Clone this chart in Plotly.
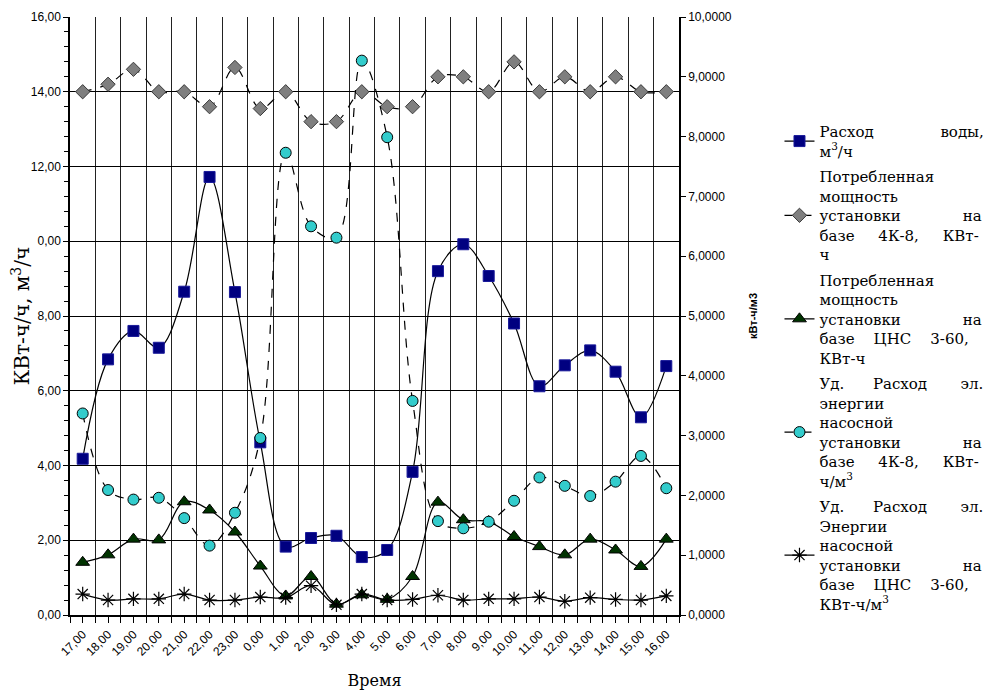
import plotly.graph_objects as go

hours = ["17,00", "18,00", "19,00", "20,00", "21,00", "22,00", "23,00", "0,00",
         "1,00", "2,00", "3,00", "4,00", "5,00", "6,00", "7,00", "8,00",
         "9,00", "10,00", "11,00", "12,00", "13,00", "14,00", "15,00", "16,00"]

water_flow = [4.18, 6.84, 7.60, 7.15, 8.65, 11.72, 8.64, 4.62, 1.83, 2.06, 2.12, 1.55,
              1.74, 3.83, 9.20, 9.92, 9.07, 7.80, 6.12, 6.68, 7.08, 6.51, 5.29, 6.66]
power_4k8 = [14.0, 14.2, 14.6, 14.0, 14.0, 13.6, 14.65, 13.55, 14.0, 13.2, 13.2, 14.0,
             13.6, 13.6, 14.4, 14.4, 14.0, 14.8, 14.0, 14.4, 14.0, 14.4, 14.0, 14.0]
power_cns = [1.41, 1.61, 2.03, 2.01, 3.03, 2.81, 2.22, 1.31, 0.51, 1.03, 0.29, 0.54,
             0.42, 1.03, 3.02, 2.55, 2.50, 2.10, 1.83, 1.61, 2.03, 1.74, 1.30, 2.03]
spec_4k8 = [3.37, 2.09, 1.93, 1.96, 1.62, 1.16, 1.71, 2.96, 7.73, 6.50, 6.31, 9.27,
            7.99, 3.58, 1.57, 1.45, 1.56, 1.91, 2.30, 2.16, 1.99, 2.23, 2.66, 2.12]
spec_cns = [0.35, 0.25, 0.27, 0.27, 0.35, 0.25, 0.25, 0.30, 0.29, 0.49, 0.17, 0.35,
            0.25, 0.26, 0.33, 0.25, 0.27, 0.27, 0.30, 0.23, 0.29, 0.26, 0.25, 0.32]

left_ticks = [0, 2, 4, 6, 8, 10, 12, 14, 16]
left_ticktext = ["0,00", "2,00", "4,00", "6,00", "8,00", "0,00", "12,00", "14,00", "16,00"]
right_ticks = [0, 1, 2, 3, 4, 5, 6, 7, 8, 9, 10]
right_ticktext = ["0,0000", "1,0000", "2,0000", "3,0000", "4,0000", "5,0000",
                  "6,0000", "7,0000", "8,0000", "9,0000", "10,0000"]

NB = "\u00a0"
ust = "установки" + NB * 13 + "на"
ud = "Уд." + NB * 6 + "Расход" + NB * 7 + "эл."
baza4 = "базе" + NB * 5 + "4К-8," + NB * 5 + "КВт-"
bazac = "базе" + NB * 4 + "ЦНС" + NB * 4 + "3-60,"
names = [
    "Расход" + NB * 14 + "воды,<br>м<sup>3</sup>/ч",
    "Потребленная<br>мощность<br>" + ust + "<br>" + baza4 + "<br>ч",
    "Потребленная<br>мощность<br>" + ust + "<br>" + bazac + "<br>КВт-ч",
    ud + "<br>энергии<br>насосной<br>" + ust + "<br>" + baza4 + "<br>ч/м<sup>3</sup>",
    ud + "<br>Энергии<br>насосной<br>" + ust + "<br>" + bazac + "<br>КВт-ч/м<sup>3</sup>",
]

x = list(range(len(hours)))
fig = go.Figure()

fig.add_trace(go.Scatter(
    x=x, y=water_flow, name=names[0], mode="lines+markers", legendgroup="a",
    line=dict(color="black", width=1.2, shape="spline", smoothing=1),
    marker=dict(symbol="square", size=11, color="#000080", line=dict(color="#1a1a9a", width=1))))
fig.add_trace(go.Scatter(
    x=x, y=power_4k8, name=names[1], mode="lines+markers", legendgroup="b",
    line=dict(color="black", width=1.2, dash="dash", shape="spline", smoothing=1),
    marker=dict(symbol="diamond", size=11, color="#7f7f7f", line=dict(color="#3a3a3a", width=1))))
fig.add_trace(go.Scatter(
    x=x, y=power_cns, name=names[2], mode="lines+markers", legendgroup="c",
    line=dict(color="black", width=1.2, shape="spline", smoothing=1),
    marker=dict(symbol="triangle-up", size=12, color="#003300", line=dict(color="black", width=1))))
fig.add_trace(go.Scatter(
    x=x, y=spec_4k8, name=names[3], mode="lines+markers", legendgroup="d", yaxis="y2",
    line=dict(color="black", width=1.2, dash="dash", shape="spline", smoothing=1),
    marker=dict(symbol="circle", size=11, color="#33cccc", line=dict(color="black", width=1))))
fig.add_trace(go.Scatter(
    x=x, y=spec_cns, name=names[4], mode="lines+markers", legendgroup="e", yaxis="y2",
    line=dict(color="black", width=1.2, shape="spline", smoothing=1),
    marker=dict(symbol="asterisk-open", size=12, color="black", line=dict(color="black", width=1.2))))

tick_font = dict(family="Liberation Sans, Arial", size=12, color="black")
serif = "DejaVu Serif, Liberation Serif"

fig.update_layout(
    width=991, height=694,
    margin=dict(l=62, r=316, t=9, b=87),
    paper_bgcolor="white", plot_bgcolor="white",
    showlegend=True,
    legend=dict(
        x=1.165, y=0.836, xanchor="left", yanchor="top",
        font=dict(family=serif, size=15, color="black"),
        traceorder="grouped", tracegroupgap=3, valign="middle",
        bgcolor="rgba(0,0,0,0)", itemwidth=30),
    xaxis=dict(
        range=[-0.5, 23.5], tickmode="array", tickvals=x, ticktext=hours,
        tickangle=-45, tickfont=tick_font, showgrid=False, zeroline=False,
        showline=True, linecolor="black", linewidth=1.5,
        ticks="outside", ticklen=6, tickcolor="black", automargin=False,
        minor=dict(tick0=-0.5, dtick=1, showgrid=True, gridcolor="#222",
                   gridwidth=1, ticks="outside", ticklen=6, tickcolor="black"),
        title=dict(text="Время", font=dict(family=serif, size=16, color="black"), standoff=17)),
    yaxis=dict(
        range=[0, 16], tickmode="array", tickvals=left_ticks, ticktext=left_ticktext,
        tickfont=tick_font, showgrid=True, gridcolor="black", gridwidth=1,
        zeroline=False, showline=True, linecolor="black", linewidth=1.5,
        ticks="outside", ticklen=5, tickcolor="black", automargin=False,
        minor=dict(tick0=0, dtick=0.4, ticks="outside", ticklen=4, tickcolor="black", showgrid=False),
        title=dict(text="КВт-ч/ч," + NB + "м<sup>3</sup>/ч", font=dict(family=serif, size=20, color="black"), standoff=4)),
    yaxis2=dict(
        range=[0, 10], overlaying="y", side="right", tickmode="array",
        tickvals=right_ticks, ticktext=right_ticktext, tickfont=tick_font,
        showgrid=False, zeroline=False, showline=True, linecolor="black", linewidth=1.5,
        ticks="outside", ticklen=5, tickcolor="black", automargin=False,
        title=dict(text="<b>кВт-ч/м3</b>", font=dict(family="Liberation Sans, Arial", size=11, color="black"), standoff=18)),
)

fig.write_html("out.html")
